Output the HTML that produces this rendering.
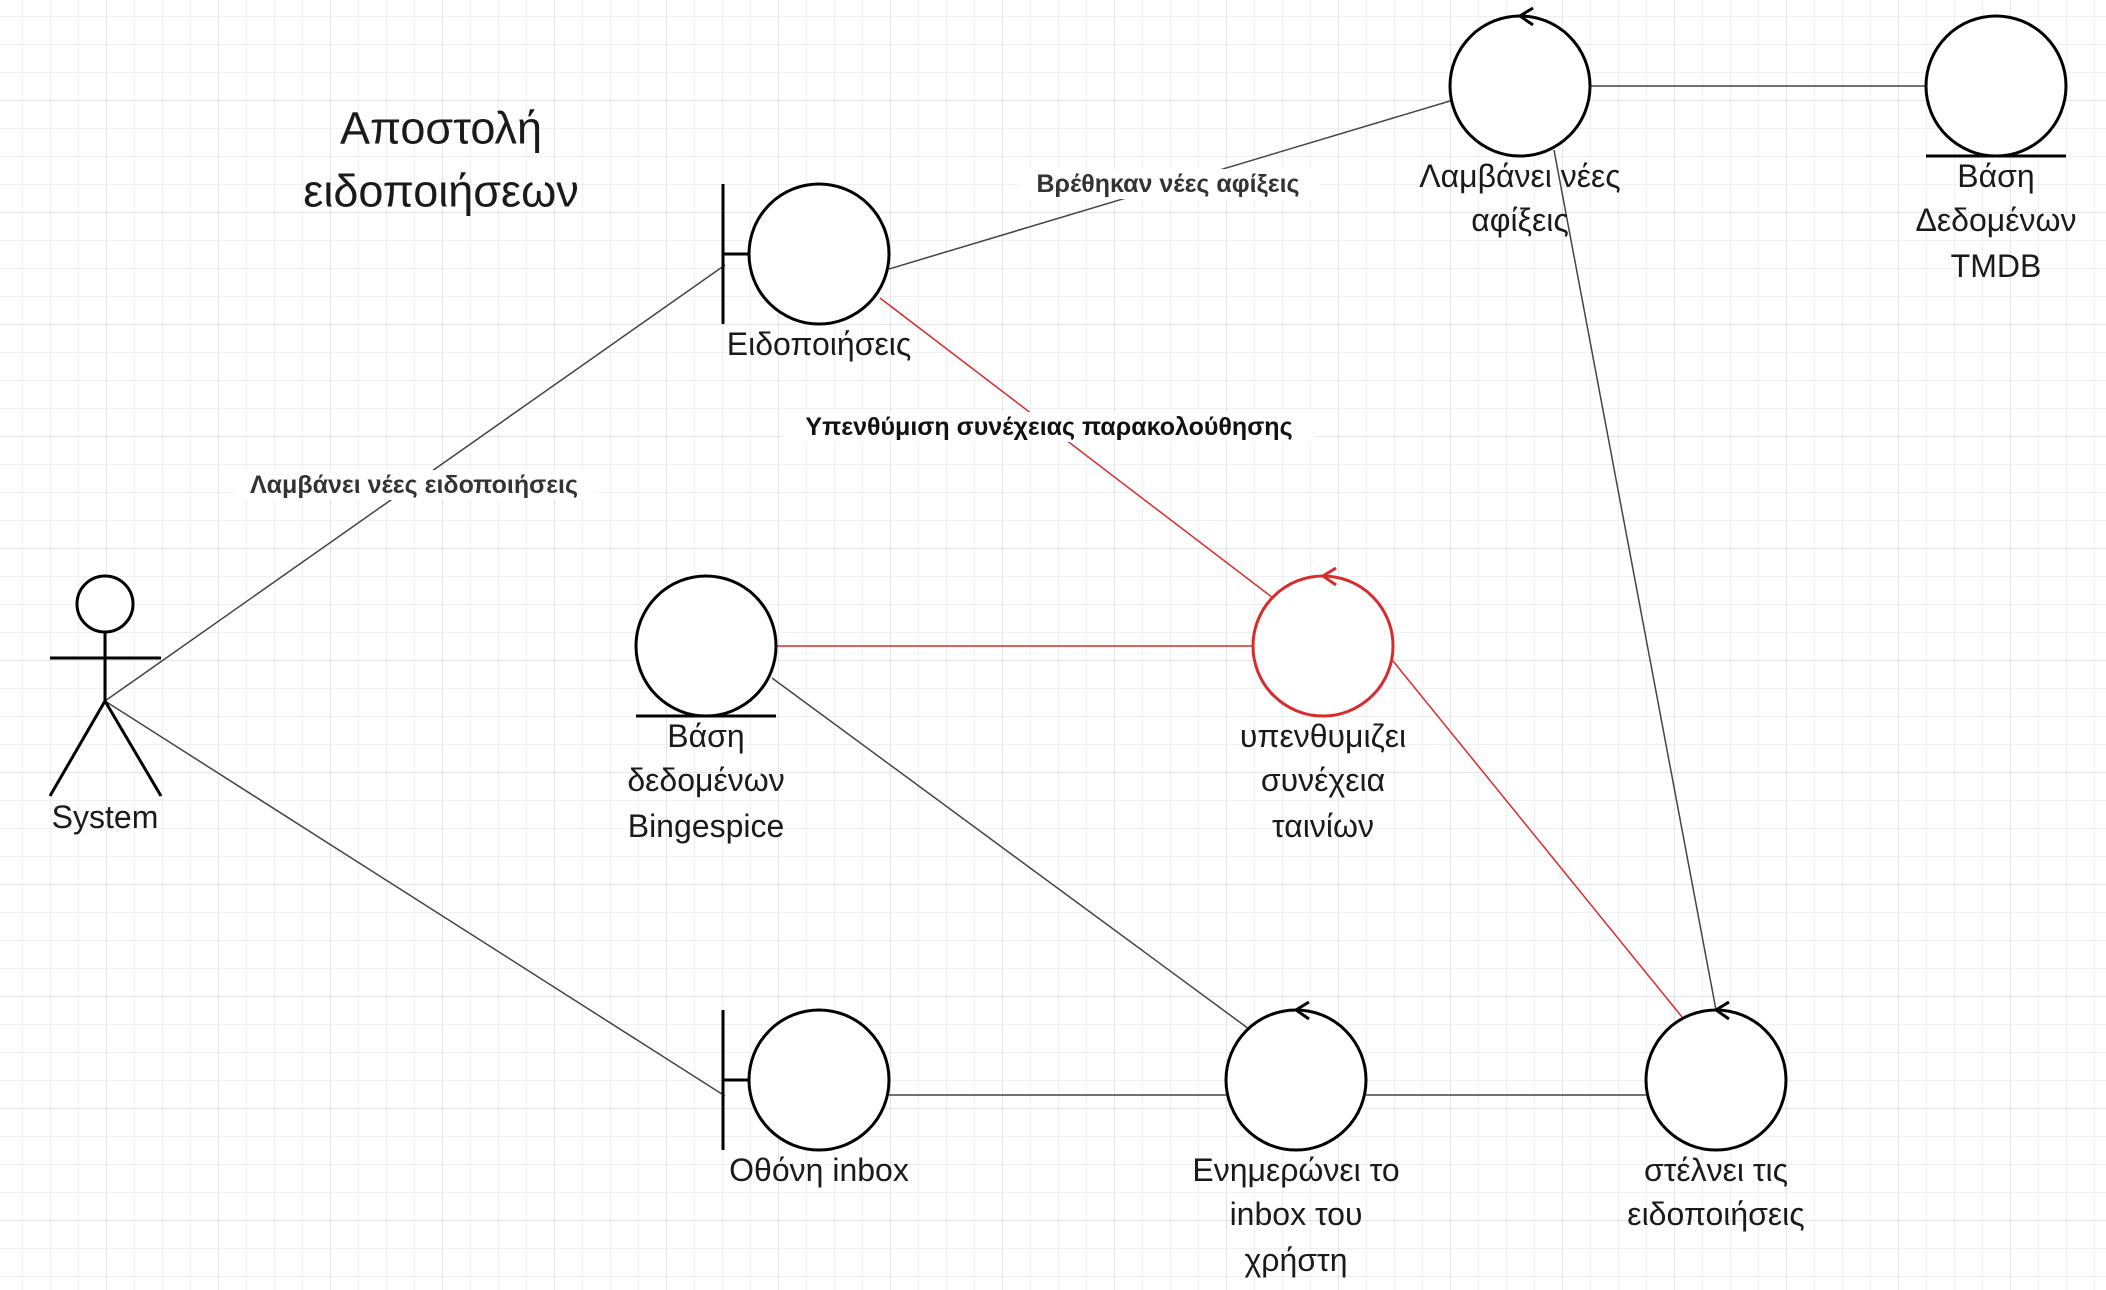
<!DOCTYPE html>
<html><head><meta charset="utf-8"><style>
html,body{margin:0;padding:0;background:#fff;}
svg{display:block;}
text{font-family:"Liberation Sans","DejaVu Sans",sans-serif;}
</style></head><body>
<svg width="2106" height="1290" viewBox="0 0 2106 1290" xmlns="http://www.w3.org/2000/svg">
<defs>
<pattern id="g" x="22" y="16" width="28" height="28" patternUnits="userSpaceOnUse">
<path d="M0 0H28M0 0V28" stroke="#ebebeb" stroke-width="1.5" fill="none"/>
</pattern>
<pattern id="G" x="106" y="100" width="112" height="112" patternUnits="userSpaceOnUse">
<path d="M0 0H112M0 0V112" stroke="#dedede" stroke-width="1.5" fill="none"/>
</pattern>
</defs>
<rect width="2106" height="1290" fill="#fff"/>
<rect width="2106" height="1290" fill="url(#g)"/>
<rect width="2106" height="1290" fill="url(#G)"/>

<g stroke="#444" stroke-width="1.5" fill="none">
<line x1="105" y1="701" x2="725" y2="265"/>
<line x1="889" y1="269" x2="1450" y2="101"/>
<line x1="1589" y1="86" x2="1926" y2="86"/>
<line x1="1554" y1="150" x2="1716" y2="1010"/>
<line x1="772" y1="678" x2="1249" y2="1029"/>
<line x1="105" y1="701" x2="725" y2="1096"/>
<line x1="889" y1="1095" x2="1226" y2="1095"/>
<line x1="1366" y1="1095" x2="1646" y2="1095"/>
</g>
<g stroke="#d92b2b" stroke-width="1.5" fill="none">
<line x1="880" y1="298" x2="1273" y2="598"/>
<line x1="776" y1="646" x2="1253" y2="646"/>
<line x1="1393" y1="661" x2="1682" y2="1017"/>
</g>

<g stroke="#000" stroke-width="3" fill="#fff">
<circle cx="819" cy="254" r="70"/>
<line x1="723" y1="184" x2="723" y2="324"/>
<line x1="723" y1="254" x2="749" y2="254"/>
<circle cx="1520" cy="86" r="70"/>
<polyline points="1533,8 1520,16 1533,25" fill="none"/>
<circle cx="1996" cy="86" r="70"/>
<line x1="1926" y1="156" x2="2066" y2="156"/>
<circle cx="706" cy="646" r="70"/>
<line x1="636" y1="716" x2="776" y2="716"/>
<circle cx="819" cy="1080" r="70"/>
<line x1="723" y1="1010" x2="723" y2="1150"/>
<line x1="723" y1="1080" x2="749" y2="1080"/>
<circle cx="1296" cy="1080" r="70"/>
<polyline points="1309,1002 1296,1010 1309,1019" fill="none"/>
<circle cx="1716" cy="1080" r="70"/>
<polyline points="1729,1002 1716,1010 1729,1019" fill="none"/>
<circle cx="105" cy="604" r="28"/>
<line x1="105" y1="632" x2="105" y2="701"/>
<line x1="50" y1="658" x2="161" y2="658"/>
<polyline points="50,796 105,701 161,796" fill="none"/>
</g>
<g stroke="#d92b2b" stroke-width="3" fill="#fff">
<circle cx="1323" cy="646" r="70"/>
<polyline points="1336,568 1323,576 1336,585" fill="none"/>
</g>

<g font-size="32" fill="#1a1a1a" text-anchor="middle" dominant-baseline="central">
<text x="441" y="128" font-size="45">Αποστολή</text>
<text x="441" y="191" font-size="45">ειδοποιήσεων</text>
<text x="819" y="344">Ειδοποιήσεις</text>
<text x="1520" y="176">Λαμβάνει νέες</text>
<text x="1520" y="220">αφίξεις</text>
<text x="1996" y="176">Βάση</text>
<text x="1996" y="220">Δεδομένων</text>
<text x="1996" y="266">TMDB</text>
<text x="105" y="817">System</text>
<text x="706" y="736">Βάση</text>
<text x="706" y="780">δεδομένων</text>
<text x="706" y="826">Bingespice</text>
<text x="1323" y="736">υπενθυμιζει</text>
<text x="1323" y="780">συνέχεια</text>
<text x="1323" y="826">ταινίων</text>
<text x="819" y="1170">Οθόνη inbox</text>
<text x="1296" y="1170">Ενημερώνει το</text>
<text x="1296" y="1214">inbox του</text>
<text x="1296" y="1260">χρήστη</text>
<text x="1716" y="1170">στέλνει τις</text>
<text x="1716" y="1214">ειδοποιήσεις</text>
</g>

<g font-size="25" font-weight="bold" fill="#333" text-anchor="middle" dominant-baseline="central">
<rect x="234" y="470" width="360" height="30" fill="#fff"/>
<text x="414" y="485">Λαμβάνει νέες ειδοποιήσεις</text>
<rect x="1018" y="169" width="302" height="30" fill="#fff"/>
<text x="1168" y="184">Βρέθηκαν νέες αφίξεις</text>
<rect x="782" y="412" width="534" height="30" fill="#fff"/>
<text x="1049" y="427" fill="#111">Υπενθύμιση συνέχειας παρακολούθησης</text>
</g>
</svg>
</body></html>
